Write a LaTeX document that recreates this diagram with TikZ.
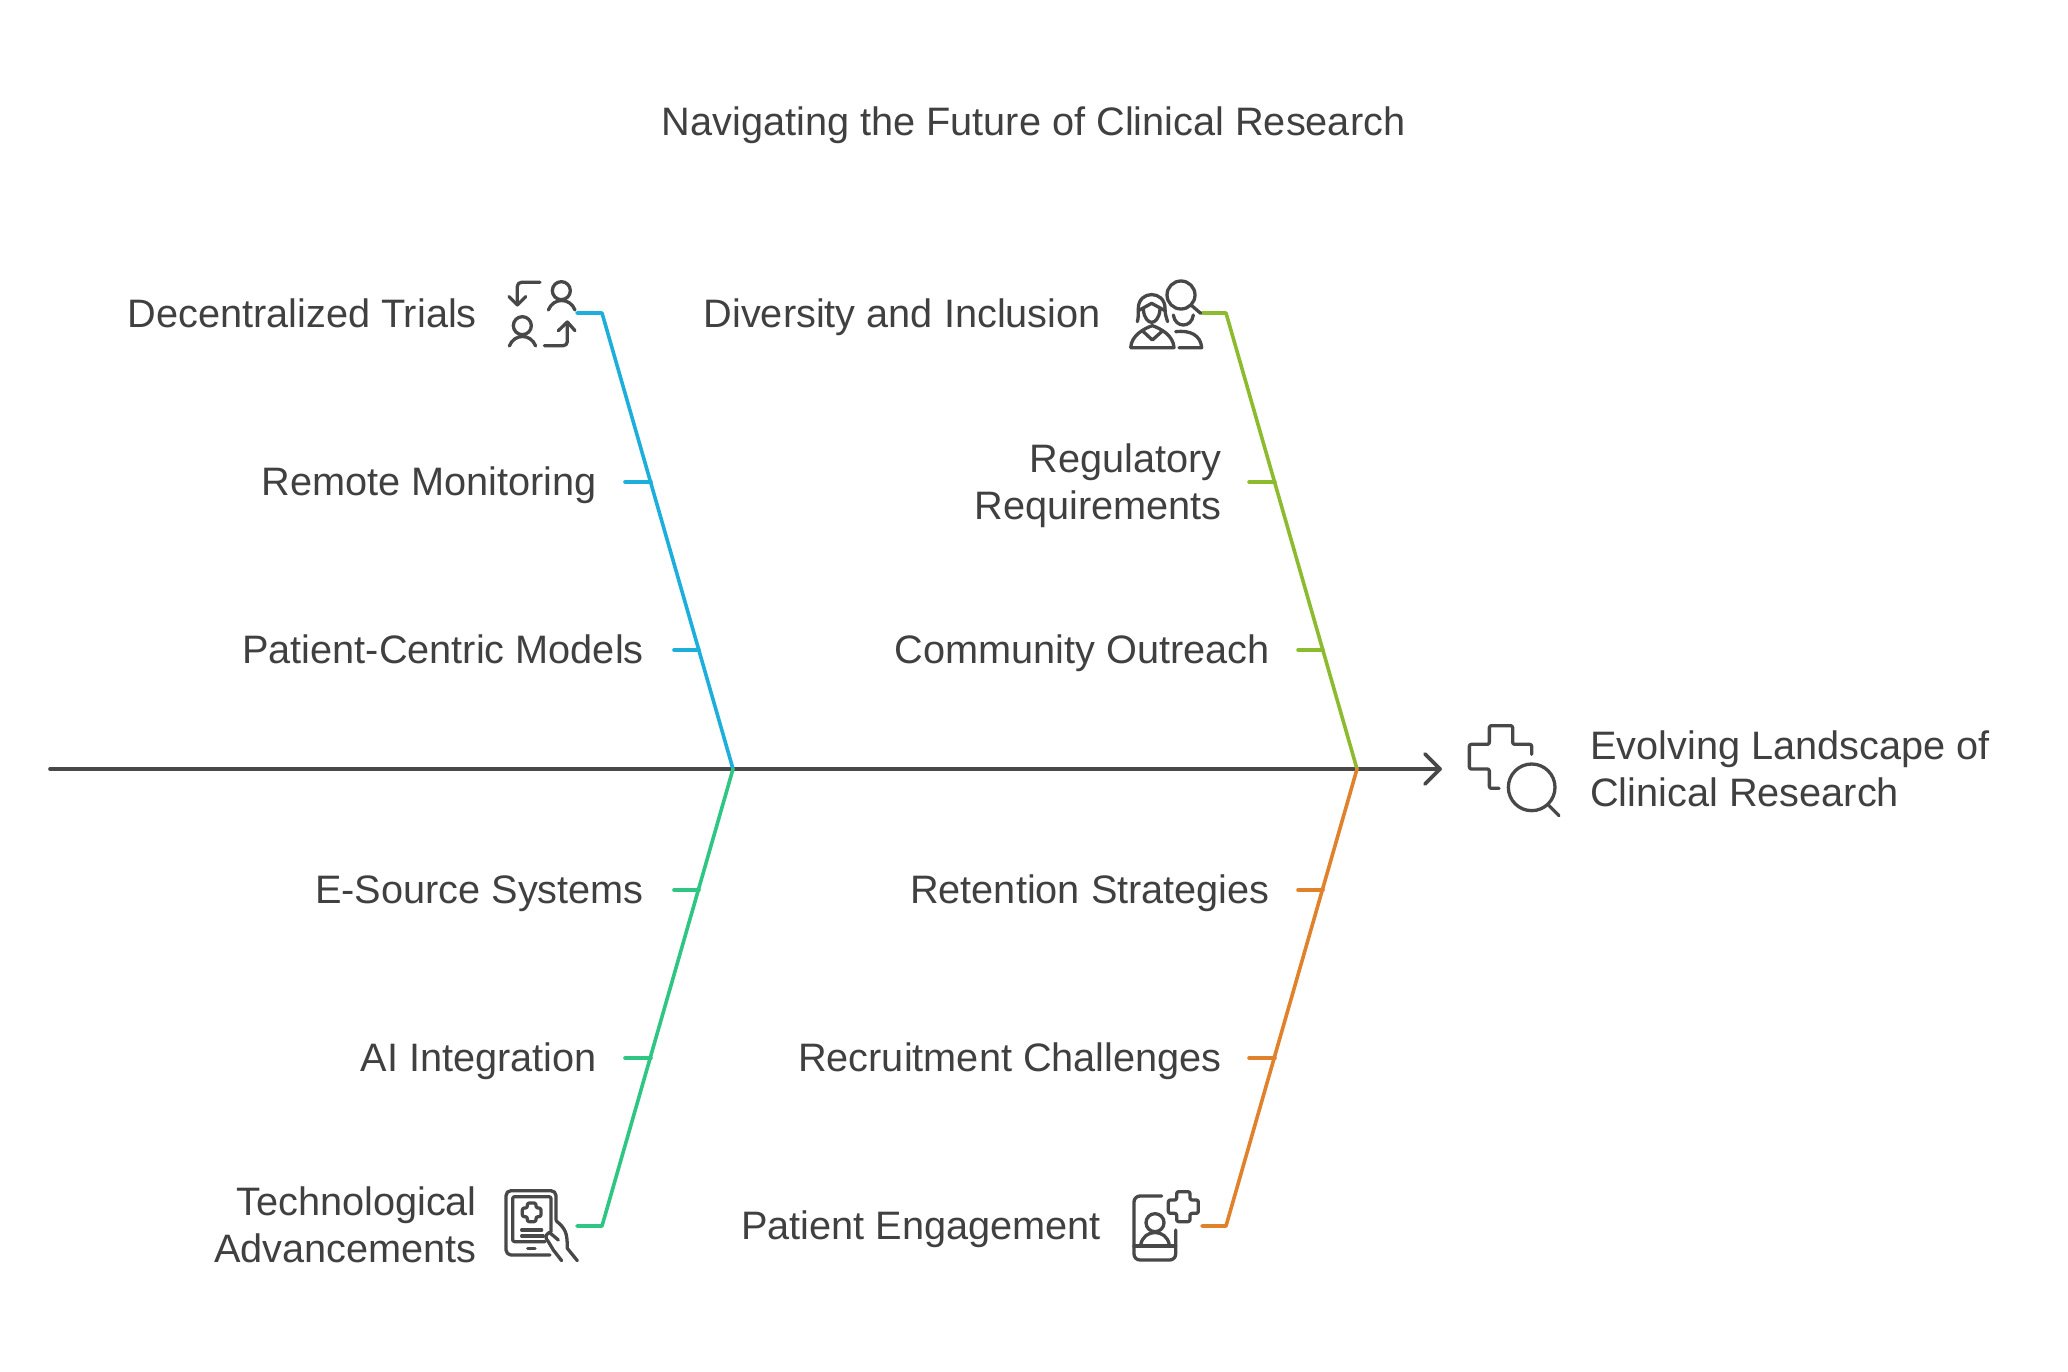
\documentclass[tikz,border=0pt]{standalone}
\usepackage{fontspec}
\setmainfont{Liberation Sans}
\definecolor{ink}{HTML}{484848}
\definecolor{txt}{HTML}{404040}
\definecolor{cblue}{HTML}{1EAEDB}
\definecolor{clime}{HTML}{8DBB2F}
\definecolor{cgreen}{HTML}{2FC582}
\definecolor{corange}{HTML}{E0812B}
\tikzset{
  lbl/.style={text=txt,font=\fontsize{39.7}{47}\selectfont,inner sep=0pt,align=right,anchor=base east},
  lbltwo/.style={lbl,anchor=east},
  spine/.style={draw=ink,line width=3.6pt,line cap=round,line join=round},
  bone/.style={line width=3.6pt,line cap=round,line join=round},
  icon/.style={draw=ink,line width=3.3pt,line cap=round,line join=round},
}
\begin{document}
\begin{tikzpicture}[x=1pt,y=-1pt]
\useasboundingbox (0,0) rectangle (2068,1372);
\node[lbl,anchor=base,align=center] (title) at (1033.5,136) {Navigating the Future of Clinical Research};
% labels
\node[lbl] (dec) at (477,327) {Decentralized Trials};
\node[lbl] (rem) at (597,495) {Remote Monitoring};
\node[lbl] (pat) at (644,663) {Patient-Centric Models};
\node[lbl] (div) at (1101,327) {Diversity and Inclusion};
\node[lbltwo] (reg) at (1222,485.5) {Regulatory\\Requirements};
\node[lbl] (com) at (1270,663) {Community Outreach};
\node[lbl] (eso) at (644,903) {E-Source Systems};
\node[lbl] (ai) at (597,1071) {AI Integration};
\node[lbltwo] (tec) at (477,1225) {Technological\\Advancements};
\node[lbl] (ret) at (1270,903) {Retention Strategies};
\node[lbl] (rec) at (1222,1071) {Recruitment Challenges};
\node[lbl] (eng) at (1101,1239) {Patient Engagement};
\node[lbltwo,anchor=west,align=left] (evo) at (1590,769) {Evolving Landscape of\\Clinical Research};
% spine
\coordinate (tail) at (50,769);
\coordinate (head) at (1440,769);
\coordinate (j1) at (733,769);
\coordinate (j2) at (1357,769);
\draw[spine] (tail) -- (head);
\coordinate (ha) at (1425,754);
\coordinate (hb) at (1425,784);
\draw[spine] (ha) -- (head) -- (hb);
% branches
\coordinate (b1a) at (577,313); \coordinate (b1b) at (602,313);
\draw[bone,cblue] (b1a) -- (b1b) -- (j1);
\coordinate (b2a) at (1202,313); \coordinate (b2b) at (1226,313);
\draw[bone,clime] (b2a) -- (b2b) -- (j2);
\coordinate (b3a) at (577,1226); \coordinate (b3b) at (602,1226);
\draw[bone,cgreen] (b3a) -- (b3b) -- (j1);
\coordinate (b4a) at (1202,1226); \coordinate (b4b) at (1226,1226);
\draw[bone,corange] (b4a) -- (b4b) -- (j2);
% ticks
\draw[bone,cblue] (625,482) -- (651,482) (674,650) -- (699,650);
\draw[bone,clime] (1249,482) -- (1275,482) (1298,650) -- (1323,650);
\draw[bone,cgreen] (674,890) -- (699,890) (625,1058) -- (651,1058);
\draw[bone,corange] (1298,890) -- (1323,890) (1249,1058) -- (1275,1058);
% icon 1
\begin{scope}[shift={(490,260)},scale=1/3]
\draw[icon,rounded corners=4pt] (150,67) -- (82,67) -- (82,135);
\draw[icon] (57,110) -- (82,135) -- (107,110);
\draw[icon] (214,92) circle[radius=27];
\draw[icon] (175,150) .. controls (190,112) and (240,112) .. (255,150);
\draw[icon] (97,197) circle[radius=27];
\draw[icon] (58,258) .. controls (73,220) and (122,220) .. (137,258);
\draw[icon,rounded corners=4pt] (163,257) -- (232,257) -- (232,188);
\draw[icon] (205,212) -- (232,186) -- (255,212);
\end{scope}
% icon 2
\begin{scope}[shift={(1110,260)},scale=1/3]
\draw[icon] (213,105) circle[radius=42];
\draw[icon] (243,135) -- (272,160);
\draw[icon] (82,185) .. controls (85,175) and (85,165) .. (85,145) .. controls (85,90) and (165,90) .. (165,145) .. controls (165,165) and (170,175) .. (173,185);
\draw[icon] (85,152) -- (125,130) -- (165,152);
\draw[icon] (100,148) .. controls (102,175) and (115,187) .. (125,187) .. controls (135,187) and (148,175) .. (150,148);
\draw[icon] (62,263) -- (192,263) .. controls (190,225) and (150,205) .. (127,197) .. controls (104,205) and (64,225) .. (62,263);
\draw[icon] (100,215) -- (127,240) -- (155,215);
\draw[icon] (190,165) .. controls (195,205) and (245,205) .. (250,165);
\draw[icon] (197,215) .. controls (240,210) and (272,225) .. (275,263) -- (207,263);
\end{scope}
% icon 3
\begin{scope}[shift={(490,1170)},scale=1/3]
\draw[icon,rounded corners=5pt] (180,255) -- (48,255) -- (48,62) -- (198,62) -- (198,150);
\draw[icon,rounded corners=2pt] (165,215) -- (68,215) -- (68,80) -- (183,80) -- (183,185);
\draw[icon,rounded corners=2pt] (112,99) -- (138,99) -- (138,114) -- (153,114) -- (153,140) -- (138,140) -- (138,155) -- (112,155) -- (112,140) -- (97,140) -- (97,114) -- (112,114) -- cycle;
\draw[icon] (95,180) -- (155,180) (95,198) -- (160,198) (113,235) -- (135,235);
\draw[icon] (198,152) .. controls (225,175) and (232,185) .. (232,235) -- (262,272);
\draw[icon] (205,210) -- (178,187) .. controls (165,195) and (165,205) .. (175,215) -- (190,240) -- (215,272);
\end{scope}
% icon 4
\begin{scope}[shift={(1110,1170)},scale=1/3]
\draw[icon,rounded corners=6pt] (155,78) -- (72,78) -- (72,270) -- (197,270) -- (197,180);
\draw[icon] (72,228) -- (197,228);
\draw[icon] (135,158) circle[radius=27];
\draw[icon] (92,225) .. controls (100,175) and (170,175) .. (178,225);
\draw[icon,rounded corners=2pt] (200,65) -- (240,65) -- (240,90) -- (265,90) -- (265,130) -- (240,130) -- (240,155) -- (200,155) -- (200,130) -- (175,130) -- (175,90) -- (200,90) -- cycle;
\end{scope}
% icon 5
\begin{scope}[shift={(1400,710)},scale=1/3]
\draw[icon,rounded corners=2pt] (395,133) -- (395,103) -- (338,103) -- (338,47) -- (268,47) -- (268,103) -- (208,103) -- (208,177) -- (268,177) -- (268,235) -- (297,235);
\draw[icon] (395,232) circle[radius=70];
\draw[icon] (445,285) -- (477,317);
\end{scope}
\end{tikzpicture}
\end{document}
